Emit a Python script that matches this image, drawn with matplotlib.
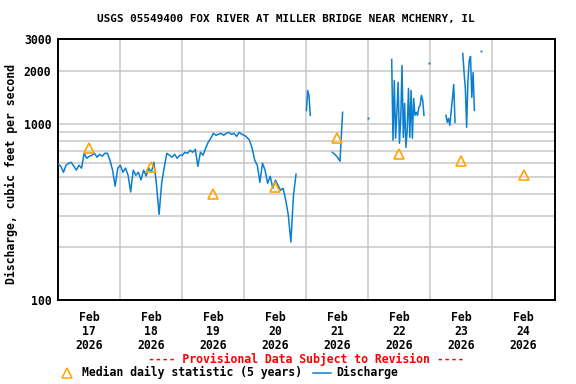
import numpy as np
import matplotlib
matplotlib.use("Agg")
import matplotlib.pyplot as plt
from matplotlib.lines import Line2D

# ---------------- data ----------------
# hourly discharge (cfs) starting Feb 17 2026 00:00
feb17_20_cfs = [
    588, 573, 530, 581, 596, 604, 573, 545, 581, 559, 679, 636,
    653, 662, 679, 645, 670, 653, 679, 679, 620, 545, 442, 559,
    581, 530, 559, 510, 410, 545, 510, 530, 480, 545, 505, 559,
    530, 604, 450, 306, 460, 566, 679, 662, 645, 670, 636, 662,
    662, 688, 679, 706, 688, 715, 573, 688, 662, 725, 784, 826,
    881, 859, 870, 881, 859, 881, 893, 870, 881, 847, 893, 870,
    859, 836, 804, 725, 620, 581, 465, 596, 545, 459, 503, 430,
    478, 448, 419, 430, 368, 303, 213, 393, 517,
]

nan = float("nan")
# later, gappy record: hours after Feb 17 00:00 and discharge (cfs)
feb21_23_hours = [
    96, 96.5, 97, 97.5, 98,
    106, 107, 108, 109, 110, 111,
    120, 120.5,
    129, 129.5, 130, 130.5, 131, 131.5, 132, 132.5, 133, 133.5,
    134, 134.5, 135, 135.5, 136, 136.5, 137, 137.5, 138, 138.5,
    139, 139.5, 140, 140.5, 141, 141.5, 142,
    143.5, 144,
    150, 150.5, 151, 151.5, 152, 152.5, 153, 153.5, 154,
    156.5, 157, 157.5, 158, 158.5, 159, 159.5, 160, 160.5, 161, 161.5,
    163.5,
]
feb21_23_cfs = [
    1186, 1543, 1446, 1114, nan,
    688, 670, 645, 612, 1159, nan,
    1077, nan,
    2312, 804, 1758, 826, 1159, 1713, 774, 1071, 2138, 836,
    1303, 734, 917, 1584, 836, 1543, 826, 1390, 1114, 1159,
    1114, 1237, 1269, 1446, 1355, 1114, nan,
    2213, nan,
    1114, 1017, 1071, 978, 1159, 1390, 1669, 1017, nan,
    2500, 1950, 1584, 953, 1758, 2281, 2404, 1409, 1950, 1188, nan,
    2565,
]

# median daily statistic (5 years), one per day at noon Feb 17..24
median_days = [17, 18, 19, 20, 21, 22, 23, 24]
median_cfs = [725, 566, 401, 439, 832, 675, 615, 513]

x_labels = ["Feb\n%d\n2026" % d for d in median_days]
y_ticks = [100, 200, 300, 400, 500, 600, 700, 800, 900, 1000, 2000, 3000]
y_labels = ["100", "", "", "", "", "", "", "", "", "1000", "2000", "3000"]

title = "USGS 05549400 FOX RIVER AT MILLER BRIDGE NEAR MCHENRY, IL"

# ---------------- build series ----------------
hours = np.concatenate([np.arange(len(feb17_20_cfs), dtype=float), [93.0],
                        np.array(feb21_23_hours, dtype=float)])
cfs = np.concatenate([np.array(feb17_20_cfs, dtype=float), [nan],
                      np.array(feb21_23_cfs, dtype=float)])

iso = []
for i in range(len(cfs)):
    if np.isnan(cfs[i]):
        continue
    left = i == 0 or np.isnan(cfs[i - 1])
    right = i == len(cfs) - 1 or np.isnan(cfs[i + 1])
    if left and right:
        iso.append(i)

median_hours = [(d - 17) * 24 + 12 for d in median_days]

# ---------------- draw ----------------
FONT = "DejaVu Sans Mono"
FS = 8.3
blue = "#0a7fcf"
orange = "#ffa500"
grid = "#c8c8c8"

fig = plt.figure(figsize=(5.76, 3.84), dpi=100)
ax = fig.add_axes([0.1012, 0.21875, 0.8615, 0.6784])
ax.set_yscale("log")
ax.set_ylim(100, 3000)
ax.set_xlim(0, 192)

ax.set_yticks(y_ticks)
ax.set_yticklabels(y_labels)
ax.yaxis.set_minor_locator(matplotlib.ticker.NullLocator())
ax.set_xticks([24 * k for k in range(1, 8)])
ax.set_xticklabels([""] * 7)
ax.set_xticks(median_hours, minor=True)
ax.set_xticklabels(x_labels, minor=True)
ax.tick_params(axis="both", which="both", length=0)
ax.tick_params(axis="x", which="minor", pad=8)
ax.tick_params(axis="y", pad=5)
for lab in ax.get_xticklabels(minor=True) + ax.get_yticklabels():
    lab.set_fontfamily(FONT)
    lab.set_fontweight("bold")
    lab.set_fontsize(FS)
    lab.set_linespacing(1.1)

ax.grid(True, which="major", axis="both", color=grid, linewidth=1.1)
ax.set_axisbelow(True)
for s in ax.spines.values():
    s.set_linewidth(1.4)
    s.set_color("black")

ax.plot(hours, cfs, color=blue, linewidth=1.1, zorder=3)
ax.plot(hours[iso], cfs[iso], linestyle="none", marker="s", markersize=1.4,
        color=blue, markeredgewidth=0, zorder=3)
ax.plot(median_hours, median_cfs, linestyle="none", marker="^", markersize=7.5,
        markerfacecolor="none", markeredgecolor=orange, markeredgewidth=1.2,
        zorder=4)

fig.text(0.4965, 0.9505, title, ha="center", va="center", family=FONT,
         weight="bold", fontsize=7.9)
fig.text(0.020, 0.5456, "Discharge, cubic feet per second", rotation=90,
         ha="center", va="center", family=FONT, weight="bold", fontsize=FS)
fig.text(0.5306, 0.0651, "---- Provisional Data Subject to Revision ----",
         ha="center", va="center", family=FONT, weight="bold", fontsize=FS,
         color="#ff0000")

fig.add_artist(Line2D([0.1163], [0.0294], marker="^", markersize=7,
                      markerfacecolor="none", markeredgecolor=orange,
                      markeredgewidth=1.1, transform=fig.transFigure))
fig.text(0.1418, 0.0294, "Median daily statistic (5 years)", ha="left",
         va="center", family=FONT, weight="bold", fontsize=FS)
fig.add_artist(Line2D([0.5434, 0.5741], [0.0294, 0.0294], color=blue,
                      linewidth=1.1, transform=fig.transFigure))
fig.text(0.5845, 0.0294, "Discharge", ha="left", va="center", family=FONT,
         weight="bold", fontsize=FS)

fig.savefig("out.png", dpi=100)
